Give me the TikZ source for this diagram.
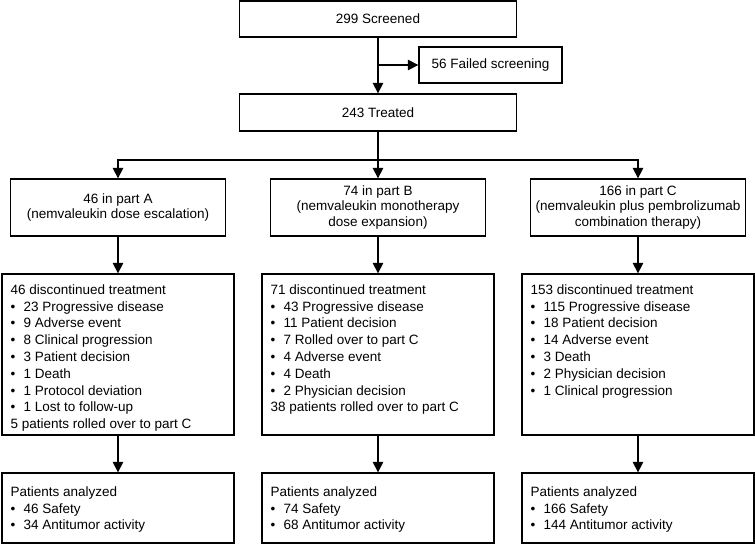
\documentclass[tikz,border=0pt]{standalone}
\usepackage{fontspec}
\setmainfont{Liberation Sans}
\usetikzlibrary{arrows.meta}
\newcommand{\bulitem}{\makebox[13pt][l]{•}}
\begin{document}
\begin{tikzpicture}[x=1pt,y=-1pt,
  font=\fontsize{13.5}{16.8}\selectfont,
  box/.style={draw, line width=1.3pt, inner sep=0pt},
  arr/.style={line width=1.3pt, -{Triangle[length=10.5pt,width=10.5pt]}},
  headtxt/.style={align=center, font=\fontsize{13.5}{15.8}\selectfont},
  listtxt/.style={align=left, anchor=north west, inner sep=0pt}]
\useasboundingbox (0,0) rectangle (755,545);

% top boxes
\node[box, minimum width=277pt, minimum height=36pt] (scr) at (378,19) {299 Screened};
\node[box, minimum width=143pt, minimum height=36pt] (fail) at (490.5,65) {56 Failed screening};
\node[box, minimum width=277pt, minimum height=37pt] (trt) at (378,112.5) {243 Treated};

\draw[arr] (scr.south) -- (trt.north);
\coordinate (br) at (scr.south |- fail.west);
\draw[arr] (br) -- (fail.west);

% part boxes
\node[box, headtxt, minimum width=215pt, minimum height=57pt] (pA) at (118,207.5) {46 in part A\\(nemvaleukin dose escalation)};
\node[box, headtxt, minimum width=215pt, minimum height=57pt] (pB) at (378,207.5) {74 in part B\\(nemvaleukin monotherapy\\dose expansion)};
\node[box, headtxt, minimum width=215pt, minimum height=57pt] (pC) at (638,207.5) {166 in part C\\(nemvaleukin plus pembrolizumab\\combination therapy)};

\coordinate (split) at (378,160);
\draw[arr] (trt.south) -- (pB.north);
\draw[arr] (split) -| (pA.north);
\draw[arr] (split) -| (pC.north);

% discontinued boxes
\node[box, minimum width=232pt, minimum height=161pt] (dA) at (118,354.5) {};
\node[box, minimum width=232pt, minimum height=161pt] (dB) at (378,354.5) {};
\node[box, minimum width=232pt, minimum height=161pt] (dC) at (638,354.5) {};

\node[listtxt] (tA) at ([shift={(9,11)}]dA.north west) {46 discontinued treatment\\
\bulitem 23 Progressive disease\\
\bulitem 9 Adverse event\\
\bulitem 8 Clinical progression\\
\bulitem 3 Patient decision\\
\bulitem 1 Death\\
\bulitem 1 Protocol deviation\\
\bulitem 1 Lost to follow-up\\
5 patients rolled over to part C};
\node[listtxt] (tB) at ([shift={(9,11)}]dB.north west) {71 discontinued treatment\\
\bulitem 43 Progressive disease\\
\bulitem 11 Patient decision\\
\bulitem 7 Rolled over to part C\\
\bulitem 4 Adverse event\\
\bulitem 4 Death\\
\bulitem 2 Physician decision\\
38 patients rolled over to part C};
\node[listtxt] (tC) at ([shift={(9,11)}]dC.north west) {153 discontinued treatment\\
\bulitem 115 Progressive disease\\
\bulitem 18 Patient decision\\
\bulitem 14 Adverse event\\
\bulitem 3 Death\\
\bulitem 2 Physician decision\\
\bulitem 1 Clinical progression};

\draw[arr] (pA.south) -- (dA.north);
\draw[arr] (pB.south) -- (dB.north);
\draw[arr] (pC.south) -- (dC.north);

% patients analyzed boxes
\node[box, minimum width=232pt, minimum height=70pt] (aA) at (118,508) {};
\node[box, minimum width=232pt, minimum height=70pt] (aB) at (378,508) {};
\node[box, minimum width=232pt, minimum height=70pt] (aC) at (638,508) {};

\node[listtxt] (uA) at ([shift={(9,14)}]aA.north west) {Patients analyzed\\
\bulitem 46 Safety\\
\bulitem 34 Antitumor activity};
\node[listtxt] (uB) at ([shift={(9,14)}]aB.north west) {Patients analyzed\\
\bulitem 74 Safety\\
\bulitem 68 Antitumor activity};
\node[listtxt] (uC) at ([shift={(9,14)}]aC.north west) {Patients analyzed\\
\bulitem 166 Safety\\
\bulitem 144 Antitumor activity};

\draw[arr] (dA.south) -- (aA.north);
\draw[arr] (dB.south) -- (aB.north);
\draw[arr] (dC.south) -- (aC.north);
\end{tikzpicture}
\end{document}
